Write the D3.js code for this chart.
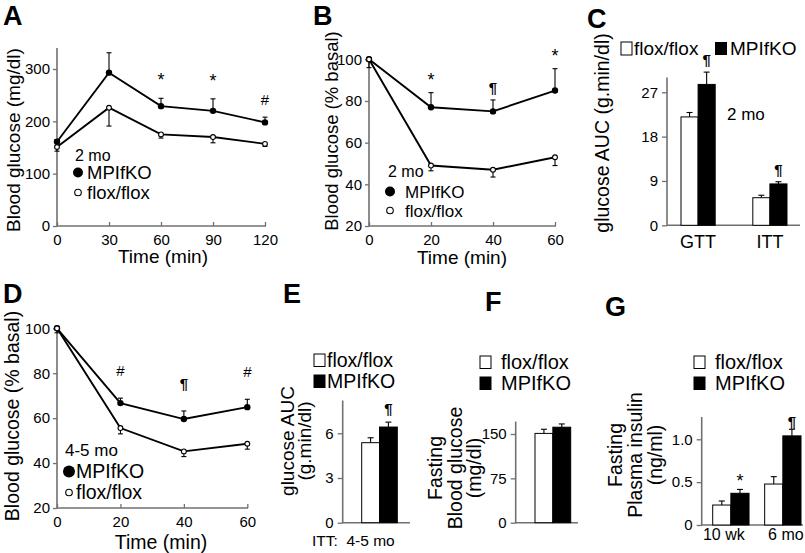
<!DOCTYPE html>
<html><head><meta charset="utf-8">
<script src="https://cdn.jsdelivr.net/npm/d3@7"></script>
<style>
body{margin:0;background:#fff}
svg{display:block}
text{font-family:"Liberation Sans",Arial,Helvetica,sans-serif;fill:#000}
</style></head>
<body><svg id="chart" width="805" height="553"></svg>
<script>
// ---------- DATA ----------
const seriesNames = ["MPIfKO", "flox/flox"];
const barSeries = ["flox/flox", "MPIfKO"];

// A: GTT 2 mo (mg/dl)
const timeA = [0, 30, 60, 90, 120];
const koA = [161, 293, 229, 220, 198];
const koErrA = [4, 38, 15, 23, 10];
const ffA = [151, 226, 175, 170, 157];
const ffErrA = [8, 35, 7, 11, 5];
const sigA = ["", "", "*", "*", "#"];
const yTicksA = [0, 100, 200, 300];

// B: ITT 2 mo (% basal)
const timeB = [0, 20, 40, 60];
const koB = [100, 77, 75, 85];
const koErrB = [0, 7, 5.5, 10.5];
const ffB = [100, 49, 47, 53];
const ffErrB = [4, 2.5, 3.5, 4];
const sigB = ["", "*", "¶", "*"];
const yTicksB = [20, 40, 60, 80, 100];

// C: glucose AUC 2 mo
const catC = ["GTT", "ITT"];
const ffC = [22.0, 5.6];
const ffErrC = [0.9, 0.5];
const koC = [28.6, 8.4];
const koErrC = [2.5, 0.45];
const sigC = ["¶", "¶"];
const yTicksC = [0, 9, 18, 27];

// D: ITT 4-5 mo (% basal)
const timeD = [0, 20, 40, 60];
const koD = [100, 66.7, 59.6, 64.9];
const koErrD = [0, 2.2, 3.6, 3.5];
const ffD = [100, 55.6, 45.2, 48.6];
const ffErrD = [2, 2.6, 2.3, 2.4];
const sigD = ["", "#", "¶", "#"];
const yTicksD = [20, 40, 60, 80, 100];

// E: glucose AUC, ITT 4-5 mo
const ffE = [5.37];
const ffErrE = [0.33];
const koE = [6.42];
const koErrE = [0.33];
const sigE = ["¶"];
const yTicksE = [0, 3, 6];

// F: fasting blood glucose
const ffF = [151];
const ffErrF = [7];
const koF = [161.5];
const koErrF = [5.5];
const yTicksF = [0, 75, 150];

// G: fasting plasma insulin
const catG = ["10 wk", "6 mo"];
const ffG = [0.233, 0.478];
const ffErrG = [0.047, 0.086];
const koG = [0.37, 1.04];
const koErrG = [0.045, 0.077];
const sigG = ["*", "¶"];
const yTicksG = [0, 0.5, 1.0];

// ---------- DRAWING ----------
const svg = d3.select("#chart");
const AXIS = "#707070";

function txt(x, y, s, fs, opts = {}) {
  const t = svg.append("text").attr("x", x).attr("y", y).attr("font-size", fs).text(s);
  if (opts.anchor) t.attr("text-anchor", opts.anchor);
  if (opts.weight) t.attr("font-weight", opts.weight);
  return t;
}
function vtext(x, cy, s, fs) {
  return svg.append("text").attr("transform", `translate(${x},${cy}) rotate(-90)`)
    .attr("text-anchor", "middle").attr("dominant-baseline", "central")
    .attr("font-size", fs).text(s);
}
function yAxis(y, x0, ticks, fmt, topVal, tickLen, pad, fs) {
  const ax = d3.axisLeft(y).tickValues(ticks).tickFormat(fmt)
    .tickSizeInner(tickLen).tickSizeOuter(0).tickPadding(pad);
  const g = svg.append("g").attr("transform", `translate(${x0},0)`).call(ax);
  g.select(".domain").remove();
  g.selectAll("line").attr("stroke", AXIS).attr("stroke-width", 1.3);
  g.selectAll("text").attr("font-size", fs).attr("fill", "#000")
    .attr("font-family", '"Liberation Sans",Arial,sans-serif');
  svg.append("line").attr("x1", x0).attr("x2", x0)
    .attr("y1", y(y.domain()[0]) + 0.6).attr("y2", y(topVal))
    .attr("stroke", AXIS).attr("stroke-width", 1.6);
}
function xBaseLine(y0, x1, x2) {
  svg.append("line").attr("x1", x1).attr("x2", x2).attr("y1", y0).attr("y2", y0)
    .attr("stroke", AXIS).attr("stroke-width", 1.6);
}
function xAxisTime(x, y0, ticks, pad, fs, xEnd) {
  const ax = d3.axisBottom(x).tickValues(ticks).tickSizeInner(-4).tickSizeOuter(0).tickPadding(pad);
  const g = svg.append("g").attr("transform", `translate(0,${y0})`).call(ax);
  g.select(".domain").remove();
  g.selectAll("line").attr("stroke", AXIS).attr("stroke-width", 1.3);
  g.selectAll("text").attr("font-size", fs).attr("fill", "#000")
    .attr("font-family", '"Liberation Sans",Arial,sans-serif');
  xBaseLine(y0, x.range()[0], xEnd);
}
function errBar(x, yFrom, yTo, cap) {
  svg.append("line").attr("x1", x).attr("x2", x).attr("y1", yFrom).attr("y2", yTo)
    .attr("stroke", "#000").attr("stroke-width", 1.1);
  svg.append("line").attr("x1", x - cap).attr("x2", x + cap).attr("y1", yTo).attr("y2", yTo)
    .attr("stroke", "#000").attr("stroke-width", 1.1);
}
function sigMark(x, yBase, s) {
  const t = txt(x, yBase, s, s === "*" ? 18 : 15, { anchor: "middle" });
  if (s === "¶") t.attr("font-weight", "bold");
}

function linePanel(p) {
  const x = d3.scaleLinear().domain(p.xDomain).range(p.xRange);
  const y = d3.scaleLinear().domain(p.yDomain).range(p.yRange);
  yAxis(y, p.xRange[0], p.yTicks, d3.format("d"), p.yTop, 4, 3, 15);
  xAxisTime(x, y(p.yDomain[0]), p.xTicks, 8, 15, p.xEnd);
  const line = d3.line().x(d => x(d[0])).y(d => y(d[1]));
  const ko = p.t.map((t, i) => [t, p.ko[i], p.koErr[i]]);
  const ff = p.t.map((t, i) => [t, p.ff[i], p.ffErr[i]]);
  [ko, ff].forEach(s => svg.append("path").datum(s).attr("d", line)
    .attr("fill", "none").attr("stroke", "#000").attr("stroke-width", 1.9));
  ko.forEach(d => { if (d[2] > 0) errBar(x(d[0]), y(d[1]), y(d[1] + d[2]), 2.5); });
  ff.forEach(d => { if (d[2] > 0) errBar(x(d[0]), y(d[1]), y(d[1] - d[2]), 2.5); });
  svg.selectAll(null).data(ko).enter().append("circle")
    .attr("cx", d => x(d[0])).attr("cy", d => y(d[1])).attr("r", 3.2).attr("fill", "#000");
  svg.selectAll(null).data(ff).enter().append("circle")
    .attr("cx", d => x(d[0])).attr("cy", d => y(d[1])).attr("r", 2.4)
    .attr("fill", "#fff").attr("stroke", "#000").attr("stroke-width", 1.1);
  p.sig.forEach((s, i) => {
    if (!s) return;
    sigMark(x(p.t[i]), y(p.ko[i] + p.koErr[i]) - p.sigGap, s);
  });
  return { x, y };
}

function barPanel(p) {
  const y = d3.scaleLinear().domain(p.yDomain).range(p.yRange);
  const xg = d3.scaleBand().domain(p.cats).range(p.bandRange).paddingInner(p.padIn).paddingOuter(0);
  const xs = d3.scaleBand().domain(barSeries).range([0, xg.bandwidth()]);
  yAxis(y, p.axisX, p.yTicks, p.fmt, p.yTop, 5, 4, 15);
  xBaseLine(y(0), p.axisX, p.xEnd);
  p.cats.forEach((c, i) => {
    const vals = { "flox/flox": [p.ff[i], p.ffErr[i]], "MPIfKO": [p.ko[i], p.koErr[i]] };
    barSeries.forEach(s => {
      const [v, e] = vals[s];
      const bx = xg(c) + xs(s);
      const cx = bx + xs.bandwidth() / 2;
      errBar(cx, y(v), y(v + e), 3);
      svg.append("rect").attr("x", bx).attr("y", y(v)).attr("width", xs.bandwidth())
        .attr("height", y(0) - y(v))
        .attr("fill", s === "MPIfKO" ? "#000" : "#fff")
        .attr("stroke", "#000").attr("stroke-width", 1);
    });
    if (p.sig && p.sig[i]) {
      const cx = xg(c) + xs("MPIfKO") + xs.bandwidth() / 2;
      sigMark(cx, y(p.ko[i] + p.koErr[i]) - p.sigGap, p.sig[i]);
    }
    if (p.showCats) txt(xg(c) + xg.bandwidth() / 2 + (p.catShift ? p.catShift[i] : 0), p.catY, c, p.catFs, { anchor: "middle" });
  });
}
function squareLegend(x, y1, y2, fs, gap) {
  [["flox/flox", y1], ["MPIfKO", y2]].forEach(([s, by]) => {
    svg.append("rect").attr("x", x).attr("y", by - 13).attr("width", 11).attr("height", 12.5)
      .attr("fill", s === "MPIfKO" ? "#000" : "#fff").attr("stroke", "#000").attr("stroke-width", 1);
    txt(x + 11 + gap, by, s, fs);
  });
}
function circleLegend(cx, yKo, yFf, tx, fs, rBig) {
  svg.append("circle").attr("cx", cx).attr("cy", yKo - 6.5).attr("r", rBig).attr("fill", "#000");
  txt(tx, yKo, seriesNames[0], fs);
  svg.append("circle").attr("cx", cx).attr("cy", yFf - 6.5).attr("r", 3.3)
    .attr("fill", "#fff").attr("stroke", "#000").attr("stroke-width", 1.1);
  txt(tx, yFf, seriesNames[1], fs);
}

// Panel letters
[["A", 3, 25], ["B", 313, 25], ["C", 587, 28], ["D", 3, 303], ["E", 283, 303], ["F", 485, 311], ["G", 605, 316]]
  .forEach(([l, x, y]) => txt(x, y, l, 27, { weight: "bold" }));

// ---- A ----
linePanel({ t: timeA, ko: koA, koErr: koErrA, ff: ffA, ffErr: ffErrA, sig: sigA,
  xDomain: [0, 120], xRange: [57, 265], yDomain: [0, 300], yRange: [226, 69],
  yTop: 340, yTicks: yTicksA, xTicks: timeA, xEnd: 266, sigGap: 12 });
vtext(13, 140, "Blood glucose (mg/dl)", 19);
txt(163, 263, "Time (min)", 19, { anchor: "middle" });
txt(75, 161, "2 mo", 16);
circleLegend(78, 179, 199, 87, 18.5, 5);

// ---- B ----
linePanel({ t: timeB, ko: koB, koErr: koErrB, ff: ffB, ffErr: ffErrB, sig: sigB,
  xDomain: [0, 60], xRange: [369, 555], yDomain: [20, 100], yRange: [226, 59.3],
  yTop: 101, yTicks: yTicksB, xTicks: timeB, xEnd: 556, sigGap: 7 });
vtext(331, 131, "Blood glucose (% basal)", 18.5);
txt(462, 264, "Time (min)", 19, { anchor: "middle" });
txt(388, 177, "2 mo", 16);
circleLegend(390, 198, 217, 405, 17, 5);

// ---- C ----
barPanel({ cats: catC, ff: ffC, ffErr: ffErrC, ko: koC, koErr: koErrC, sig: sigC,
  yDomain: [0, 27], yRange: [225.3, 92.3], yTop: 30, yTicks: yTicksC, fmt: d3.format("d"),
  axisX: 667, xEnd: 800, bandRange: [681, 787], padIn: 0.524, sigGap: 7,
  showCats: true, catY: 248, catFs: 18 });
vtext(602, 133, "glucose AUC (g.min/dl)", 19.5);
txt(727, 120, "2 mo", 17);
svg.append("rect").attr("x", 621).attr("y", 42).attr("width", 11).attr("height", 13)
  .attr("fill", "#fff").attr("stroke", "#000");
txt(634, 55, "flox/flox", 19);
svg.append("rect").attr("x", 715).attr("y", 42).attr("width", 12).attr("height", 13).attr("fill", "#000");
txt(730, 55, "MPIfKO", 19);

// ---- D ----
linePanel({ t: timeD, ko: koD, koErr: koErrD, ff: ffD, ffErr: ffErrD, sig: sigD,
  xDomain: [0, 60], xRange: [57, 247.3], yDomain: [20, 100], yRange: [508, 328.3],
  yTop: 101, yTicks: yTicksD, xTicks: timeD, xEnd: 248, sigGap: 22 });
vtext(12, 416, "Blood glucose (% basal)", 19.5);
txt(161, 549, "Time (min)", 19.5, { anchor: "middle" });
txt(65, 456, "4-5 mo", 17);
circleLegend(69, 478, 499, 76, 19.5, 6);

// ---- E ----
barPanel({ cats: ["ITT"], ff: ffE, ffErr: ffErrE, ko: koE, koErr: koErrE, sig: sigE,
  yDomain: [0, 6], yRange: [522.7, 433.3], yTop: 8.2, yTicks: yTicksE, fmt: d3.format("d"),
  axisX: 342.7, xEnd: 410, bandRange: [361.7, 397.3], padIn: 0, sigGap: 8, showCats: false });
vtext(287, 441, "glucose AUC", 19);
vtext(304, 441, "(g.min/dl)", 19);
txt(312, 546, "ITT:  4-5 mo", 15.5).style("white-space", "pre");
squareLegend(314, 367, 388, 19.5, 2);

// ---- F ----
barPanel({ cats: ["F"], ff: ffF, ffErr: ffErrF, ko: koF, koErr: koErrF, sig: null,
  yDomain: [0, 150], yRange: [522.7, 434], yTop: 171, yTicks: yTicksF, fmt: d3.format("d"),
  axisX: 515.7, xEnd: 578, bandRange: [535, 570.7], padIn: 0, sigGap: 12, showCats: false });
vtext(435, 468, "Fasting", 19.5);
vtext(455, 468, "Blood glucose", 19.5);
vtext(474, 468, "(mg/dl)", 19.5);
squareLegend(480, 369, 390, 20, 10);

// ---- G ----
barPanel({ cats: catG, ff: ffG, ffErr: ffErrG, ko: koG, koErr: koErrG, sig: sigG,
  yDomain: [0, 1], yRange: [525, 439.3], yTop: 1.26, yTicks: yTicksG,
  fmt: d => d === 0 ? "0" : d3.format(".1f")(d),
  axisX: 701.7, xEnd: 803, bandRange: [712.7, 801], padIn: 0.301, sigGap: 2,
  showCats: true, catY: 540, catFs: 16, catShift: [-7, 3] });
vtext(615, 455, "Fasting", 19.5);
vtext(635, 455, "Plasma insulin", 19.5);
vtext(655, 455, "(ng/ml)", 19.5);
squareLegend(694, 369, 390, 20, 10);
</script>
</body></html>
